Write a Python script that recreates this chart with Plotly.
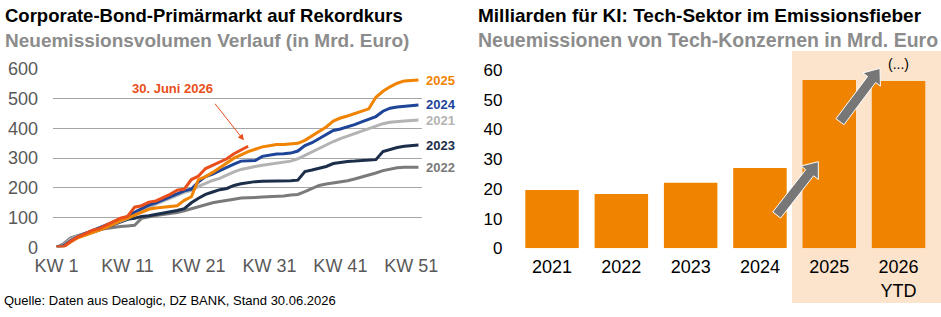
import math
import plotly.graph_objects as go

W, H = 941, 317

# ---------------- data ----------------
weeks = list(range(1, 53))
kw_tickvals = [1, 11, 21, 31, 41, 51]
kw_ticktext = ["KW 1", "KW 11", "KW 21", "KW 31", "KW 41", "KW 51"]

v2021 = [0, 8, 28, 38, 45, 52, 60, 68, 78, 88, 97, 110, 122, 135, 145, 155, 165, 175, 185, 192,
         205, 215, 225, 232, 243, 254, 262, 268, 272, 276, 279, 282, 285, 290, 298, 310, 322, 333,
         345, 356, 366, 374, 382, 390, 398, 408, 416, 421, 424, 425, 427, 428]
v2022 = [0, 12, 32, 40, 47, 54, 60, 64, 67, 70, 72, 74, 98, 103, 107, 110, 113, 117, 123, 130,
         137, 145, 150, 154, 157, 162, 166, 168, 168, 169, 170, 171, 173, 176, 178, 187, 198, 208,
         213, 216, 220, 224, 230, 236, 242, 250, 258, 264, 268, 269, 269, 269]
v2023 = [0, 5, 22, 35, 43, 50, 58, 67, 76, 86, 94, 98, 104, 106, 110, 115, 120, 124, 130, 150,
         165, 178, 186, 194, 198, 208, 214, 218, 221, 222, 222, 222, 223, 224, 226, 255, 260, 265,
         272, 282, 286, 289, 290, 291, 292, 295, 322, 330, 336, 340, 342, 344]
v2024 = [0, 5, 22, 36, 46, 56, 64, 74, 85, 95, 103, 118, 130, 142, 150, 160, 170, 180, 190, 196,
         220, 238, 246, 258, 270, 280, 290, 290, 292, 306, 310, 314, 315, 317, 324, 342, 352, 365,
         378, 393, 398, 405, 413, 422, 432, 440, 458, 468, 472, 475, 478, 479]
v2025 = [0, 2, 18, 32, 40, 48, 57, 66, 78, 90, 98, 108, 118, 128, 132, 135, 137, 140, 158, 170,
         228, 238, 252, 268, 283, 300, 311, 322, 330, 338, 342, 346, 346, 347, 350, 360, 375, 390,
         405, 425, 435, 442, 450, 458, 466, 505, 525, 540, 552, 560, 562, 563]
v2026 = [0, 2, 20, 35, 45, 57, 63, 74, 85, 98, 104, 135, 140, 152, 156, 166, 178, 192, 196, 228,
         240, 265, 276, 288, 298, 315, 328, 340]

bar_years = ["2021", "2022", "2023", "2024", "2025", "2026<br>YTD"]
bar_values = [19.6, 18.3, 22.1, 27.0, 56.6, 56.3]

# ---------------- styles ----------------
FONT = "Liberation Sans, Arial, sans-serif"
C2021 = "#B3B3B3"
C2022 = "#7A7A7A"
C2023 = "#1C2E4A"
C2024 = "#1E4597"
C2025 = "#F08300"
C2026 = "#E94E1B"
BAR = "#F08300"

series = [
    ("2022", v2022, C2022),
    ("2023", v2023, C2023),
    ("2021", v2021, C2021),
    ("2024", v2024, C2024),
    ("2025", v2025, C2025),
    ("2026", v2026, C2026),
]


def px2p(x, y):
    return x / W, 1 - y / H


fig = go.Figure()
for name, vals, col in series:
    fig.add_trace(go.Scatter(x=weeks[:len(vals)], y=vals, mode="lines", name=name,
                             line=dict(color=col, width=3), xaxis="x", yaxis="y",
                             showlegend=False, hoverinfo="skip"))

fig.add_trace(go.Bar(x=list(range(len(bar_years))), y=bar_values, marker_color=BAR,
                     marker_line_width=0,
                     xaxis="x2", yaxis="y2", showlegend=False, hoverinfo="skip"))

# domains (pixel-derived)
lx0, lx1 = 53 / W, 422 / W
ly0, ly1 = (H - 247.3) / H, (H - 69) / H
rx0, rx1 = 517.4 / W, 933.2 / W
ry0, ry1 = (H - 248.3) / H, (H - 70) / H

fig.update_layout(
    template="none",
    width=W, height=H,
    margin=dict(l=0, r=0, t=0, b=0, autoexpand=False),
    paper_bgcolor="white", plot_bgcolor="rgba(0,0,0,0)",
    font=dict(family=FONT, color="#000000"),
    bargap=0.228,
    xaxis=dict(domain=[lx0, lx1], range=[0.5, 52.5], tickvals=kw_tickvals, ticktext=kw_ticktext,
               showgrid=False, zeroline=False, showline=False, ticks="", automargin=False,
               tickfont=dict(size=18, color="#595959"), ticklabelstandoff=6),
    yaxis=dict(domain=[ly0, ly1], range=[0, 600], dtick=100, showgrid=True,
               gridcolor="#A6A6A6", gridwidth=1, zeroline=False, showline=False, ticks="",
               automargin=False,
               tickfont=dict(size=18, color="#595959"), ticklabelstandoff=14),
    xaxis2=dict(domain=[rx0, rx1], range=[-0.5, 5.5], tickvals=list(range(len(bar_years))),
                ticktext=bar_years, showgrid=False, zeroline=False, showline=False, ticks="",
                automargin=False,
                tickfont=dict(size=18, color="#000000"), anchor="y2", ticklabelstandoff=6),
    yaxis2=dict(domain=[ry0, ry1], range=[0, 60], dtick=10, showgrid=False, zeroline=False,
                showline=False, ticks="", tickfont=dict(size=17, color="#000000"),
                automargin=False, anchor="x2", ticklabelstandoff=14),
)

shapes = []
# shaded highlight for 2025/2026
sx0, sy0 = px2p(792, 51)
sx1, sy1 = px2p(941, 303)
shapes.append(dict(type="rect", xref="paper", yref="paper", x0=sx0, x1=sx1, y0=sy1, y1=sy0,
                   fillcolor="#FCE4CC", line=dict(width=0), layer="below"))


def block_arrow(x0, y0, x1, y1, sw=10, hw=22, hl=14):
    dx, dy = x1 - x0, y1 - y0
    L = math.hypot(dx, dy)
    ux, uy = dx / L, dy / L
    nx, ny = -uy, ux
    bx, by = x1 - ux * hl, y1 - uy * hl
    pts = [
        (x0 + nx * sw / 2, y0 + ny * sw / 2),
        (bx + nx * sw / 2, by + ny * sw / 2),
        (bx + nx * hw / 2, by + ny * hw / 2),
        (x1, y1),
        (bx - nx * hw / 2, by - ny * hw / 2),
        (bx - nx * sw / 2, by - ny * sw / 2),
        (x0 - nx * sw / 2, y0 - ny * sw / 2),
    ]
    path = ""
    for i, (px, py) in enumerate(pts):
        X, Y = px2p(px, py)
        path += ("M" if i == 0 else "L") + f"{X:.5f},{Y:.5f} "
    return path + "Z"


for a in [(776.7, 215, 818.3, 161.7), (840, 121.7, 880, 68.3)]:
    shapes.append(dict(type="path", xref="paper", yref="paper", path=block_arrow(*a),
                       fillcolor="#777777", line=dict(color="white", width=1), layer="above"))

fig.update_layout(shapes=shapes)

ann = []


def ptext(text, x, y, size, color, bold=False, xanchor="left", yanchor="middle"):
    X, Y = px2p(x, y)
    t = f"<b>{text}</b>" if bold else text
    ann.append(dict(text=t, x=X, y=Y, xref="paper", yref="paper", showarrow=False,
                    xanchor=xanchor, yanchor=yanchor,
                    font=dict(family=FONT, size=size, color=color)))


ptext("Corporate-Bond-Primärmarkt auf Rekordkurs", 3, 15, 18.5, "#000000", bold=True)
ptext("Neuemissionsvolumen Verlauf (in Mrd. Euro)", 3, 40, 19, "#8C8C8C", bold=True)
ptext("Milliarden für KI: Tech-Sektor im Emissionsfieber", 476, 15, 19, "#000000", bold=True)
ptext("Neuemissionen von Tech-Konzernen in Mrd. Euro", 476, 40, 19.5, "#8C8C8C", bold=True)
ptext("Quelle: Daten aus Dealogic, DZ BANK, Stand 30.06.2026", 2, 300, 13, "#000000")
ptext("(...)", 898, 64, 14, "#000000", xanchor="center")

# series end labels
for name, vals, col in series:
    if name == "2026":
        continue
    ann.append(dict(text=f"<b>{name}</b>", x=52, y=vals[-1], xref="x", yref="y", showarrow=False,
                    xanchor="left", yanchor="middle", xshift=6,
                    font=dict(family=FONT, size=13, color=col)))

# 30. Juni 2026 callout
ann.append(dict(text="<b>30. Juni 2026</b>", x=17.4, y=534, xref="x", yref="y", showarrow=False,
                xanchor="center", yanchor="middle", font=dict(family=FONT, size=13, color=C2026)))
ann.append(dict(text="", x=27.4, y=360, xref="x", yref="y", showarrow=True, ax=-30, ay=-38,
                axref="pixel", ayref="pixel", arrowhead=2, arrowsize=1.2, arrowwidth=1,
                arrowcolor=C2026))

fig.update_layout(annotations=ann)

fig.write_html("out.html")
